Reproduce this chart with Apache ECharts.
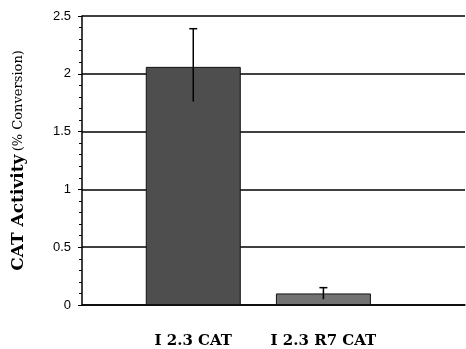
<!DOCTYPE html>
<html>
<head>
<meta charset="utf-8">
<script src="https://cdn.jsdelivr.net/npm/echarts@6/dist/echarts.min.js"></script>
<style>
  html, body { margin: 0; padding: 0; background: #fff; }
  #chart { width: 466px; height: 349px; }
</style>
</head>
<body>
<div id="chart"></div>
<script>
// values
var categories = ['I 2.3 CAT', 'I 2.3 R7 CAT'];
var positions = [1, 2];
var activity = [2.06, 0.10];
var errLow = [1.76, 0.05];
var errHigh = [2.39, 0.15];
var barColors = ['#4e4e4e', '#727272'];

var barData = positions.map(function (p, i) {
    return { value: [p, activity[i]], itemStyle: { color: barColors[i] } };
});
var errData = positions.map(function (p, i) {
    return [p, errLow[i], errHigh[i]];
});

var chart = echarts.init(document.getElementById('chart'));

var option = {
    animation: false,
    backgroundColor: '#fff',
    grid: { left: 82, right: 1, top: 16, bottom: 44 },
    xAxis: {
        type: 'value',
        min: 0.145,
        max: 3.088,
        axisLine: { show: true, onZero: false, lineStyle: { color: '#000', width: 1.5 } },
        axisTick: { show: false },
        splitLine: { show: false },
        axisLabel: {
            customValues: positions,
            formatter: function (v) {
                var i = positions.indexOf(Math.round(v));
                return i >= 0 ? categories[i] : '';
            },
            margin: 29,
            fontFamily: 'DejaVu Serif',
            fontWeight: 'bold',
            fontSize: 15,
            color: '#000'
        }
    },
    yAxis: {
        type: 'value',
        min: 0,
        max: 2.5,
        interval: 0.5,
        axisLine: { show: true, lineStyle: { color: '#000', width: 1.5 } },
        axisTick: { show: true, length: 4, lineStyle: { color: '#000', width: 1 } },
        minorTick: { show: true, splitNumber: 5, length: 3, lineStyle: { color: '#000', width: 1 } },
        splitLine: { show: true, lineStyle: { color: '#000', width: 1.5 } },
        axisLabel: {
            margin: 11,
            fontFamily: 'Liberation Sans',
            fontSize: 13,
            color: '#000',
            formatter: function (v) { return String(v); }
        },
        name: '{a|CAT Activity} {b|(% Conversion)}',
        nameLocation: 'middle',
        nameRotate: 90,
        nameGap: 55,
        nameTextStyle: {
            rich: {
                a: { fontFamily: 'DejaVu Serif', fontWeight: 'bold', fontSize: 17, color: '#000' },
                b: { fontFamily: 'DejaVu Serif', fontSize: 13, color: '#000' }
            }
        }
    },
    series: [
        {
            type: 'bar',
            data: barData,
            barWidth: 95,
            itemStyle: { borderColor: '#111', borderWidth: 1 }
        },
        {
            type: 'custom',
            data: errData,
            z: 5,
            renderItem: function (params, api) {
                var x = api.value(0);
                var lo = api.coord([x, api.value(1)]);
                var hi = api.coord([x, api.value(2)]);
                var cap = 4;
                var style = { stroke: '#000', lineWidth: 1.5 };
                return {
                    type: 'group',
                    children: [
                        { type: 'line', shape: { x1: hi[0], y1: hi[1], x2: lo[0], y2: lo[1] }, style: style },
                        { type: 'line', shape: { x1: hi[0] - cap, y1: hi[1], x2: hi[0] + cap, y2: hi[1] }, style: style }
                    ]
                };
            }
        }
    ]
};

chart.setOption(option);
</script>
</body>
</html>
